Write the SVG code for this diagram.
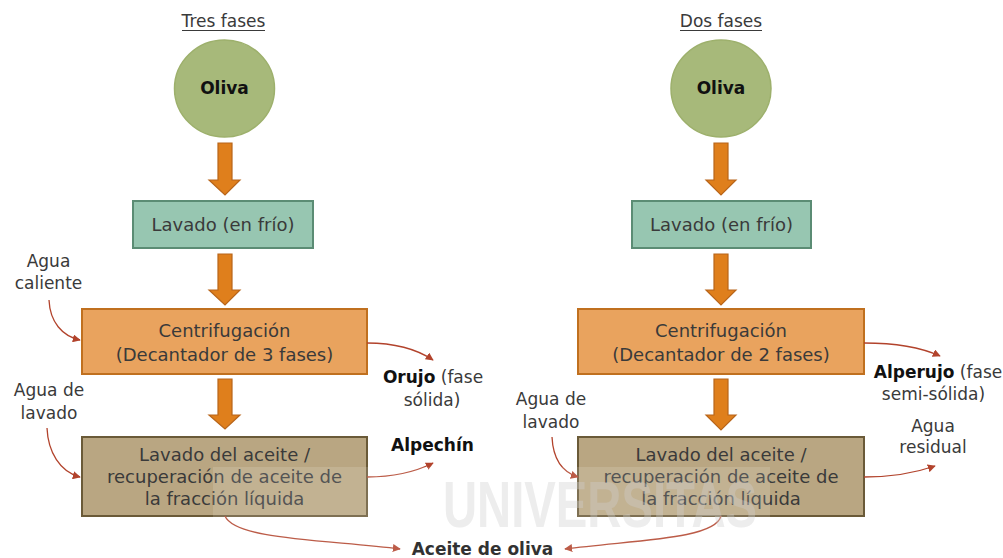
<svg xmlns="http://www.w3.org/2000/svg" width="1003" height="558" viewBox="0 0 1003 558">
<defs>
<marker id="ah" viewBox="0 0 10 10" refX="9" refY="5" markerWidth="8" markerHeight="8" markerUnits="userSpaceOnUse" orient="auto">
<path d="M0,0 L10,5 L0,10 Z" fill="#b2432c"/>
</marker>
<style>
.t{font-family:"DejaVu Sans","Liberation Sans",sans-serif;fill:#3a3a3a;text-anchor:middle}
.box{font-size:18px}
.lbl{font-size:17px}
.b{font-weight:bold;fill:#111}
.title{font-size:17px}
.circ{fill:#a7b97a;stroke:#9db06c;stroke-width:1.5}
.teal{fill:#97c6b1;stroke:#5b8c74;stroke-width:2}
.orange{fill:#e9a35e;stroke:#c0701f;stroke-width:2}
.brown{fill:#b9a682;stroke:#6a5a38;stroke-width:2}
.barrow{fill:#df7f1c;stroke:#b8651a;stroke-width:1.2}
.con{fill:none;stroke:#b2432c;stroke-width:1.3;marker-end:url(#ah)}
</style>
</defs>
<rect width="1003" height="558" fill="#ffffff"/>

<!-- Titles -->
<g id="title-tres">
<text class="t title" x="223.5" y="26.5">Tres fases</text>
<line x1="182" y1="30.5" x2="265" y2="30.5" stroke="#3a3a3a" stroke-width="1"/>
</g>
<g id="title-dos">
<text class="t title" x="721" y="26.5">Dos fases</text>
<line x1="680" y1="30.5" x2="762" y2="30.5" stroke="#3a3a3a" stroke-width="1"/>
</g>

<!-- Left column -->
<g id="oliva-l">
<ellipse class="circ" cx="224.5" cy="88.5" rx="50" ry="48.5"/>
<text class="t b" style="font-size:17px" x="224.5" y="94">Oliva</text>
</g>
<g id="lavado-frio-l">
<rect class="teal" x="133" y="201" width="180" height="47"/>
<text class="t box" x="223" y="230.5">Lavado (en frío)</text>
</g>
<g id="centrif-l">
<rect class="orange" x="82" y="309" width="285" height="65"/>
<text class="t box" x="224.5" y="337">Centrifugación</text>
<text class="t box" x="224.5" y="360.5">(Decantador de 3 fases)</text>
</g>
<g id="lavado-aceite-l">
<rect class="brown" x="82" y="437" width="285" height="79"/>
<text class="t box" x="224.5" y="460.5">Lavado del aceite /</text>
<text class="t box" x="224.5" y="482.5">recuperación de aceite de</text>
<text class="t box" x="224.5" y="505">la fracción líquida</text>
</g>

<!-- Right column -->
<g id="oliva-r">
<ellipse class="circ" cx="721" cy="88.5" rx="50" ry="48.5"/>
<text class="t b" style="font-size:17px" x="721" y="94">Oliva</text>
</g>
<g id="lavado-frio-r">
<rect class="teal" x="632" y="201" width="179" height="47"/>
<text class="t box" x="721.5" y="230.5">Lavado (en frío)</text>
</g>
<g id="centrif-r">
<rect class="orange" x="578" y="309" width="286" height="65"/>
<text class="t box" x="721" y="337">Centrifugación</text>
<text class="t box" x="721" y="360.5">(Decantador de 2 fases)</text>
</g>
<g id="lavado-aceite-r">
<rect class="brown" x="578" y="437" width="286" height="79"/>
<text class="t box" x="721" y="460.5">Lavado del aceite /</text>
<text class="t box" x="721" y="482.5">recuperación de aceite de</text>
<text class="t box" x="721" y="505">la fracción líquida</text>
</g>

<!-- Side labels -->
<g id="agua-caliente">
<text class="t lbl" x="48.5" y="267">Agua</text>
<text class="t lbl" x="48.5" y="289">caliente</text>
</g>
<g id="agua-lavado-l">
<text class="t lbl" x="49" y="396">Agua de</text>
<text class="t lbl" x="49" y="419">lavado</text>
</g>
<g id="orujo">
<text class="t lbl" x="433" y="383"><tspan class="b">Orujo</tspan> (fase</text>
<text class="t lbl" x="432" y="406">sólida)</text>
</g>
<g id="alpechin">
<text class="t lbl b" x="432.5" y="451">Alpechín</text>
</g>
<g id="agua-lavado-r">
<text class="t lbl" x="551" y="405">Agua de</text>
<text class="t lbl" x="551" y="428">lavado</text>
</g>
<g id="alperujo">
<text class="t lbl" x="938" y="378"><tspan class="b">Alperujo</tspan> (fase</text>
<text class="t lbl" x="933.5" y="400">semi-sólida)</text>
</g>
<g id="agua-residual">
<text class="t lbl" x="933" y="432">Agua</text>
<text class="t lbl" x="933" y="453">residual</text>
</g>
<g id="aceite-oliva">
<text class="t lbl b" x="482.5" y="555">Aceite de oliva</text>
</g>

<!-- Connectors -->
<g id="connectors">
<polygon class="barrow" points="218,143 232,143 232,180 240,180 225,195 209,180 218,180"/>
<polygon class="barrow" points="218,254 232,254 232,290 240,290 225,305 209,290 218,290"/>
<polygon class="barrow" points="218,379 232,379 232,415 240,415 225,429 209,415 218,415"/>
<polygon class="barrow" points="714,143 728,143 728,180 736,180 721,195 706,180 714,180"/>
<polygon class="barrow" points="714,254 728,254 728,290 736,290 721,305 706,290 714,290"/>
<polygon class="barrow" points="714,379 728,379 728,415 736,415 721,430 706,415 714,415"/>
<path class="con" d="M49,300 C50,322 62,336 80,340"/>
<path class="con" d="M367,343 C398,343 418,350 433,360"/>
<path class="con" d="M47,428 C48,452 60,472 80,477"/>
<path class="con" d="M367,477 C395,477 415,472 433,463"/>
<path class="con" d="M225,516 C235,540 330,540 400,549"/>
<path class="con" d="M864,343 C895,343 920,347 940,356"/>
<path class="con" d="M552,437 C553,458 562,472 578,477"/>
<path class="con" d="M864,477 C895,477 915,473 935,466"/>
<path class="con" d="M721,516 C715,540 630,540 565,549"/>
</g>

<!-- Watermark -->
<g id="watermark" opacity="0.45">
<rect x="213" y="467" width="557" height="91" fill="#ffffff" opacity="0.3"/>
<text x="443" y="527" font-family="Liberation Sans, sans-serif" font-weight="bold" font-size="64" fill="#d8d8d8" textLength="314" lengthAdjust="spacingAndGlyphs">UNIVERSITAS</text>
</g>
</svg>
